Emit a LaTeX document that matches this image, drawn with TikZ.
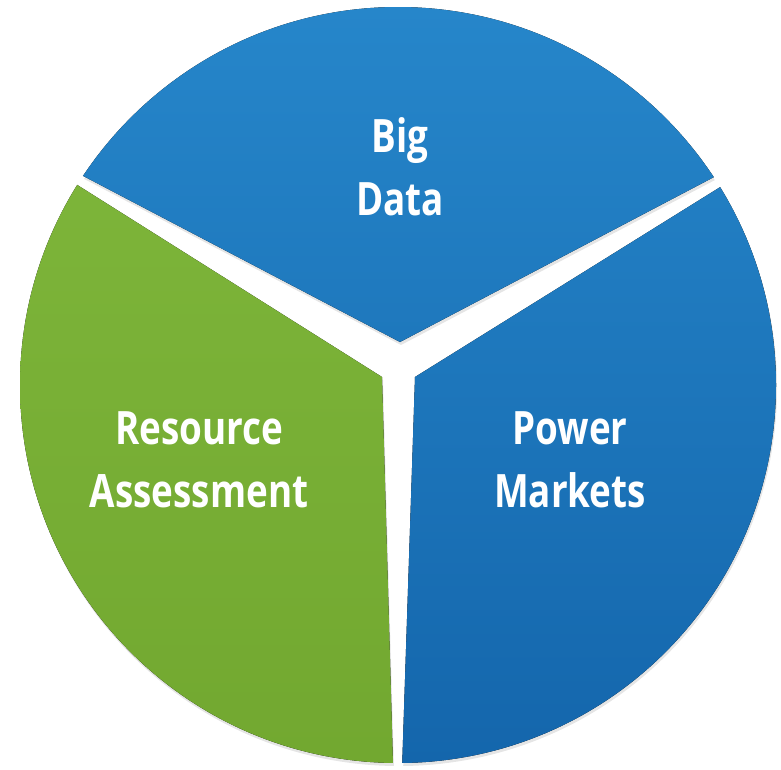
\documentclass[tikz,border=0pt]{standalone}
\usepackage{fontspec}
\newfontfamily\piefont{Open Sans}[FakeStretch=0.8]
\usetikzlibrary{positioning}
\definecolor{pieblue}{RGB}{38,134,202}
\definecolor{piebluedark}{RGB}{20,102,172}
\definecolor{piegreen}{RGB}{128,184,60}
\definecolor{piegreendark}{RGB}{114,168,48}
\newcommand{\piedisc}{(398,385) circle [radius=378pt]}
\tikzset{
  piecaption/.style={text=white, align=center,
    font=\piefont\bfseries\fontsize{46}{63}\selectfont},
  pieshadow/.style={fill=black!10},
}

\begin{document}
\begin{tikzpicture}[x=1pt, y=-1pt]
  \useasboundingbox (0,0) rectangle (781,769);
  % soft shadow under the slices
  \begin{scope}[shift={(1,3)}]
    \begin{scope}
      \clip (400,342) -- (-77,92) -- (-77,-20) -- (880,-20) -- (872,94) -- cycle;
      \fill[pieshadow] \piedisc;
    \end{scope}
    \begin{scope}
      \clip (382,377) -- (-75,89) -- (-75,800) -- (394,800) -- cycle;
      \fill[pieshadow] \piedisc;
    \end{scope}
    \begin{scope}
      \clip (415,377) -- (873,92) -- (873,800) -- (401,800) -- cycle;
      \fill[pieshadow] \piedisc;
    \end{scope}
  \end{scope}
  % top slice
  \begin{scope}
    \clip (400,342) -- (-77,92) -- (-77,-20) -- (880,-20) -- (872,94) -- cycle;
    \fill[top color=pieblue, bottom color=piebluedark] \piedisc;
  \end{scope}
  % left slice
  \begin{scope}
    \clip (382,377) -- (-75,89) -- (-75,800) -- (394,800) -- cycle;
    \fill[top color=piegreen, bottom color=piegreendark] \piedisc;
  \end{scope}
  % right slice
  \begin{scope}
    \clip (415,377) -- (873,92) -- (873,800) -- (401,800) -- cycle;
    \fill[top color=pieblue, bottom color=piebluedark] \piedisc;
  \end{scope}
  \node[piecaption] (bigdata) at (400,167) {Big\\Data};
  \node[piecaption] (resource) at (199,460) {Resource\\Assessment};
  \node[piecaption, on grid, right=371pt of resource] (power) {Power\\Markets};
\end{tikzpicture}
\end{document}
